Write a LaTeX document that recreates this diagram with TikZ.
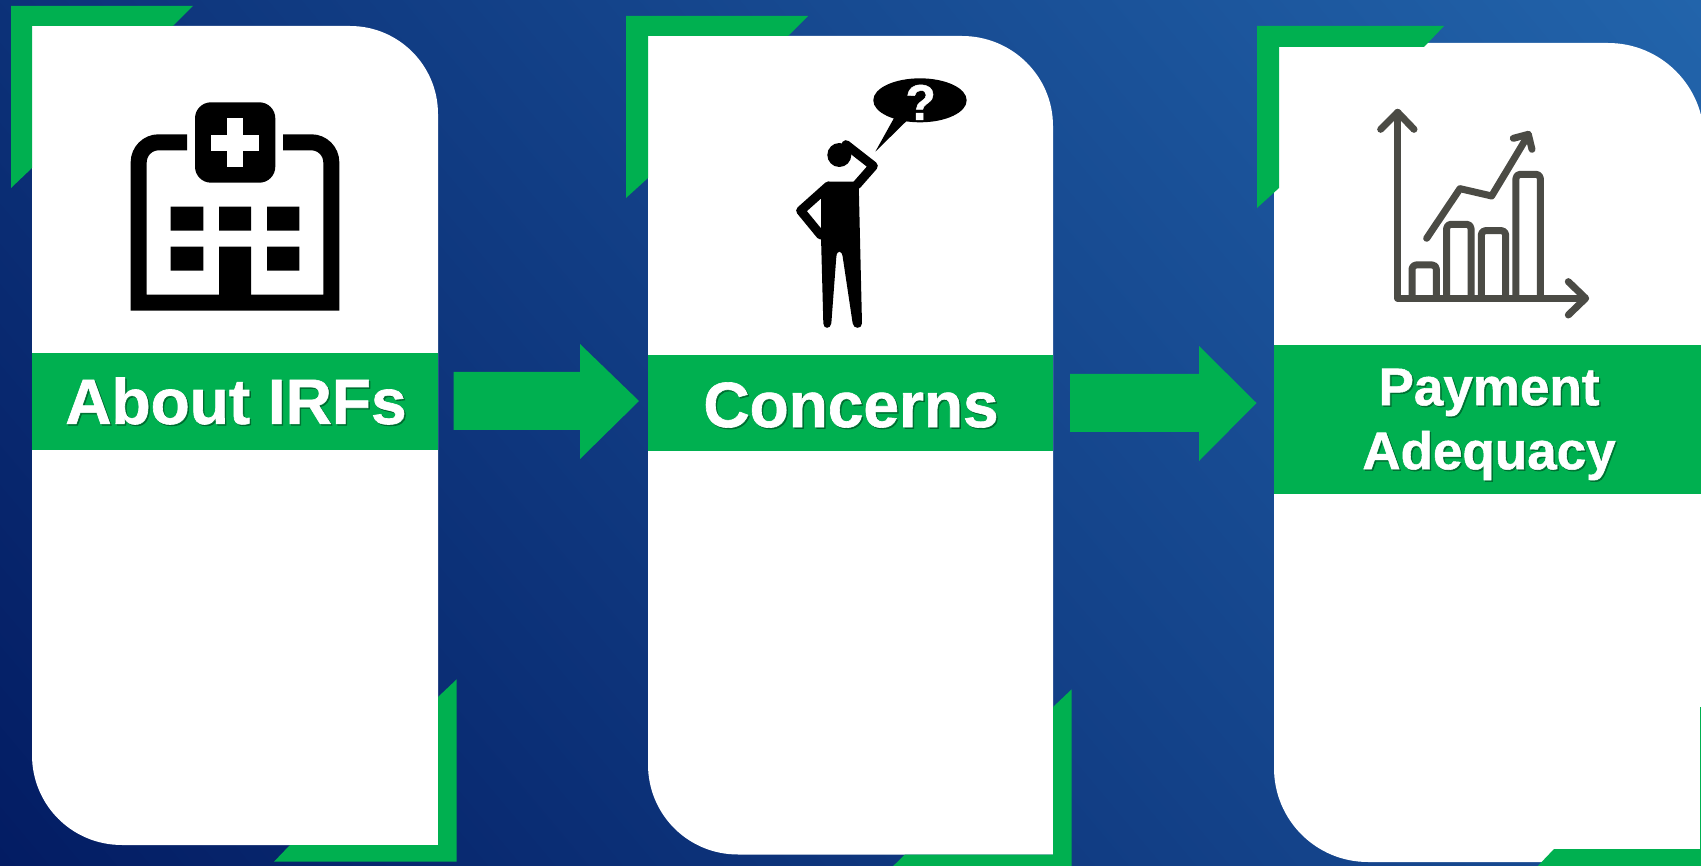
\documentclass[tikz,border=0pt]{standalone}
\usepackage{fontspec}
\setmainfont[BoldFeatures={FakeBold=1}]{Liberation Sans}
\definecolor{gr}{HTML}{00B050}
\definecolor{chartc}{HTML}{4B4B45}
\definecolor{bgA}{HTML}{031C63}
\definecolor{bgB}{HTML}{103C84}
\definecolor{bgC}{HTML}{2264AB}
\tikzset{
  greenfill/.style={fill=gr},
  cardfill/.style={fill=white},
  title/.style={text=white,font=\bfseries\fontsize{64}{64}\selectfont,inner sep=0pt,align=center},
  titlesub/.style={text=white,font=\bfseries\fontsize{53}{64}\selectfont,inner sep=0pt,align=center},
  shadowtext/.style={text=black,text opacity=.3},
  chartline/.style={draw=chartc,line width=7pt,line cap=round,line join=round},
  barline/.style={chartline,line cap=butt,rounded corners=4pt},
  hosp/.style={draw=black,line width=16pt},
}
\begin{document}
\begin{tikzpicture}[x=1pt,y=-1pt]
\useasboundingbox (0,0) rectangle (1701,866);
\clip (0,0) rectangle (1701,866);
\begin{scope}[transform canvas={rotate around={40:(850.5,433)}}]
\fill[left color=bgA,middle color=bgB,right color=bgC] (-79.5,-700) rectangle (1780.5,1566);
\end{scope}
% cards
\fill[cardfill] (32,26) -- (350,26) .. controls (398.6,26) and (438,65.4) .. (438,114) -- (438,845) -- (122,845) .. controls (72,845) and (32,805) .. (32,755) -- cycle;
\fill[cardfill] (648,36) -- (962,36) .. controls (1012,36) and (1053,76) .. (1053,126) -- (1053,854.5) -- (738,854.5) .. controls (688,854.5) and (648,814.5) .. (648,764.5) -- cycle;
\fill[cardfill] (1274,43) -- (1608,43) .. controls (1661,43) and (1704,86) .. (1704,139) -- (1704,862) -- (1368,862) .. controls (1316,862) and (1274,820) .. (1274,768) -- cycle;
% bands
\fill[greenfill] (32,353) rectangle (438,450);
\fill[greenfill] (648,355) rectangle (1053,451.5);
\fill[greenfill] (1274,345) rectangle (1704,494);
% green corners
\fill[greenfill] (11,6) -- (193,6) -- (173,26) -- (32,26) -- (32,168) -- (11,188) -- cycle;
\fill[greenfill] (456.7,679.3) -- (456.7,861.7) -- (274,861.7) -- (290,845) -- (438,845) -- (438,697) -- cycle;
\fill[greenfill] (626,16) -- (808,16) -- (788,36) -- (648,36) -- (648,178) -- (626,198) -- cycle;
\fill[greenfill] (1071.7,689.3) -- (1071.7,872) -- (887,872) -- (905,854.5) -- (1053,854.5) -- (1053,707) -- cycle;
\fill[greenfill] (1257,26) -- (1444,26) -- (1424,47) -- (1279,47) -- (1279,188) -- (1257,208) -- cycle;
\fill[greenfill] (1700,707) -- (1702,707) -- (1702,870) -- (1534,870) -- (1554,849) -- (1700,849) -- cycle;
% block arrows
\fill[greenfill] (453.5,372) -- (580,372) -- (580,344) -- (639,401) -- (580,459) -- (580,430) -- (453.5,430) -- cycle;
\fill[greenfill] (1070,374) -- (1199,374) -- (1199,346) -- (1256.5,403) -- (1199,461) -- (1199,432) -- (1070,432) -- cycle;
% titles
\node[title,shadowtext] (t1s) at (237.5,402.5) {About IRFs};
\node[title] (t1) at (236,401) {About IRFs};
\node[title,shadowtext] (t2s) at (852.5,406.5) {Concerns};
\node[title] (t2) at (851,405) {Concerns};
\node[titlesub,shadowtext] (t3s) at (1490.5,426) {Payment\\Adequacy};
\node[titlesub] (t3) at (1489,424.5) {Payment\\Adequacy};
% hospital icon
\fill[black,rounded corners=16pt] (195,102.3) rectangle (275.3,182.7);
\fill[white] (226.7,118.3) rectangle (243.3,166.7);
\fill[white] (211,134.7) rectangle (259.3,150.7);
\draw[hosp] (187,142.3) [rounded corners=20pt] -- (138.7,142.3) [sharp corners] -- (138.7,302.7) -- (331.3,302.7) [rounded corners=20pt] -- (331.3,142.3) [sharp corners] -- (283,142.3);
\fill[black] (170.7,206.7) rectangle (203.3,230.7) (219,206.7) rectangle (251,230.7) (267,206.7) rectangle (299.3,230.7);
\fill[black] (170.7,246.7) rectangle (203.3,270.7) (267,246.7) rectangle (299.3,270.7) (219,246.7) rectangle (251,302.7);
% person
\begin{scope}[shift={(760,60)},x=0.3333pt,y=-0.3333pt]
\fill[black] (480,121) ellipse [x radius=46.7pt,y radius=22pt];
\fill[black] (410,160) -- (346,275) -- (458,165) -- cycle;
\fill[black] (238,285) circle [radius=12pt];
\draw[black,line width=9pt,line cap=round,line join=round] (290,375) -- (340,318) -- (258,254);
\draw[black,line width=9pt,line cap=round,line join=round] (205,378) -- (122,452) -- (182,525);
\fill[black] (203,365) -- (296,365) -- (306,790) .. controls (306,808) and (280,808) .. (278,790) -- (248,590) .. controls (245,570) and (231,570) .. (229,590) -- (214,790) .. controls (212,808) and (190,808) .. (190,790) -- (183,530) -- (183,400) -- cycle;
\node[text=white,font=\bfseries\fontsize{50}{50}\selectfont,inner sep=0pt] (qm) at (482,127) {?};
\end{scope}
% chart
\begin{scope}[shift={(1340,90)},x=0.3333pt,y=-0.3333pt]
\draw[chartline] (173,67) -- (173,625) -- (735,625);
\draw[chartline] (122,118) -- (173,67) -- (222,118);
\draw[chartline] (685,575) -- (737,625) -- (685,675);
\draw[barline] (216,625) -- (216,525) -- (289,525) -- (289,625);
\draw[barline] (320,625) -- (320,403) -- (393,403) -- (393,625);
\draw[barline] (424,625) -- (424,422) -- (497,422) -- (497,625);
\draw[barline] (528,625) -- (528,253) -- (601,253) -- (601,625);
\draw[chartline] (260,445) -- (360,296) -- (455,318) -- (565,135);
\draw[chartline] (520,145) -- (565,133) -- (576,178);
\end{scope}
\end{tikzpicture}
\end{document}
